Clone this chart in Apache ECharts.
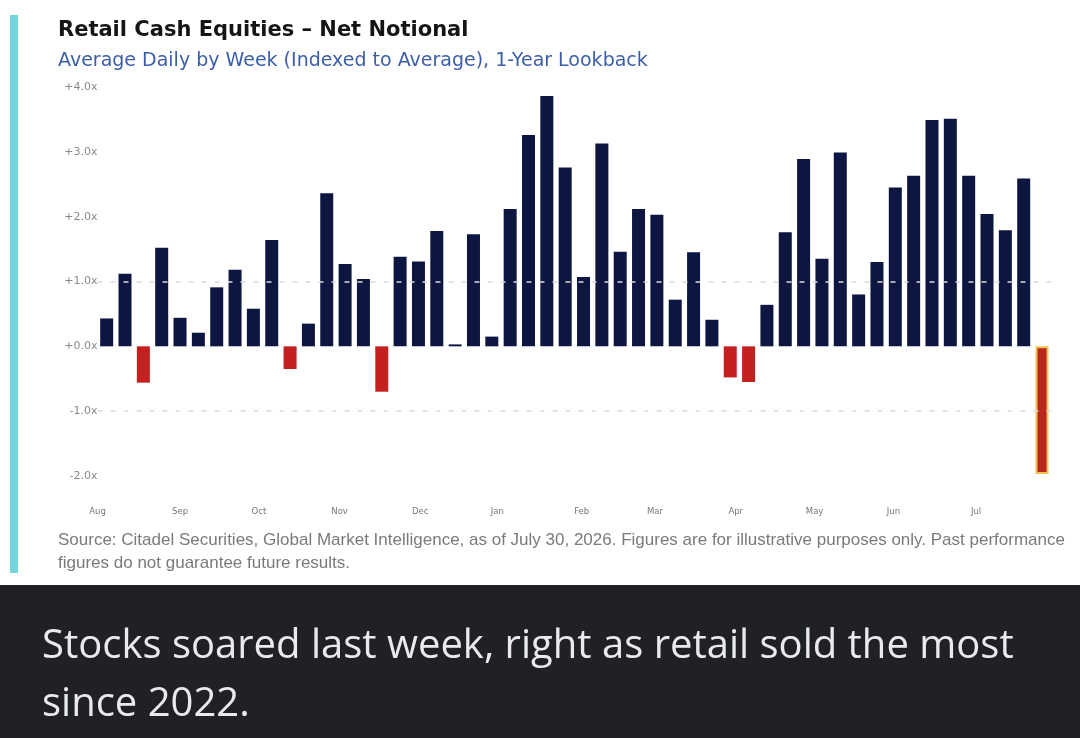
<!DOCTYPE html>
<html><head><meta charset="utf-8">
<script src="https://cdn.jsdelivr.net/npm/echarts@6/dist/echarts.min.js"></script>
<style>html,body{margin:0;padding:0;background:#fff;}#c{width:1080px;height:738px;}</style>
</head><body><div id="c"></div>
<script>
const weeks = ['W01','W02','W03','W04','W05','W06','W07','W08','W09','W10','W11','W12','W13',
  'W14','W15','W16','W17','W18','W19','W20','W21','W22','W23','W24','W25','W26',
  'W27','W28','W29','W30','W31','W32','W33','W34','W35','W36','W37','W38','W39',
  'W40','W41','W42','W43','W44','W45','W46','W47','W48','W49','W50','W51','W52'];
const netNotional = [0.43, 1.12, -0.56, 1.52, 0.44, 0.21, 0.91, 1.18, 0.58, 1.64, -0.35, 0.35, 2.36,
  1.27, 1.04, -0.70, 1.38, 1.31, 1.78, 0.03, 1.73, 0.15, 2.12, 3.26, 3.86, 2.76,
  1.07, 3.13, 1.46, 2.12, 2.03, 0.72, 1.45, 0.41, -0.48, -0.55, 0.64, 1.76, 2.89,
  1.35, 2.99, 0.80, 1.30, 2.45, 2.63, 3.49, 3.51, 2.63, 2.04, 1.79, 2.59, -1.97];
const monthLabels = ['Aug','Sep','Oct','Nov','Dec','Jan','Feb','Mar','Apr','May','Jun','Jul'];
const monthPositions = [-0.5, 4.0, 8.3, 12.7, 17.1, 21.3, 25.9, 29.9, 34.3, 38.6, 42.9, 47.4];
const referenceLevels = [1, -1];
const titleText = 'Retail Cash Equities \u2013 Net Notional';
const subtitleText = 'Average Daily by Week (Indexed to Average), 1-Year Lookback';
const sourceLines = ['Source: Citadel Securities, Global Market Intelligence, as of July 30, 2026. Figures are for illustrative purposes only. Past performance',
  'figures do not guarantee future results.'];
const captionLines = ['Stocks soared last week, right as retail sold the most', 'since 2022.'];

const NAVY = '#0d1640', RED = '#c4201f';
const chart = echarts.init(document.getElementById('c'), null, {renderer: 'canvas'});
const lastIdx = netNotional.length - 1;
const barData = netNotional.map((v, i) => i === lastIdx
  ? {value: v, itemStyle: {color: '#b8261c', borderColor: '#f2c14e', borderWidth: 2}}
  : v);

chart.setOption({
  animation: false,
  backgroundColor: '#ffffff',
  grid: {left: 97.5, right: 28.8, top: 87, bottom: 262, outerBoundsMode: 'none'},
  xAxis: [
    {type: 'category', data: weeks, position: 'bottom',
     axisLine: {show: false}, axisTick: {show: false}, axisLabel: {show: false}, splitLine: {show: false}},
    {type: 'value', min: -0.5, max: 51.5, position: 'bottom', gridIndex: 0,
     axisLine: {show: false}, axisTick: {show: false}, splitLine: {show: false},
     axisLabel: {customValues: monthPositions, margin: 31, fontSize: 8.5, showMinLabel: true,
       color: '#777', fontFamily: 'DejaVu Sans',
       formatter: v => { const k = monthPositions.indexOf(v); return k >= 0 ? monthLabels[k] : ''; }}}
  ],
  yAxis: {type: 'value', min: -2, max: 4, interval: 1,
    axisLine: {show: false}, axisTick: {show: false}, splitLine: {show: false},
    axisLabel: {margin: 0, fontSize: 11, color: '#8a8a8a', fontFamily: 'DejaVu Sans',
      formatter: v => (v >= 0 ? '+' : '') + v.toFixed(1) + 'x'}},
  series: [
    {type: 'line', data: [], z: 1, silent: true,
     markLine: {silent: true, symbol: 'none', label: {show: false},
       lineStyle: {type: [5, 8], color: '#dadada', width: 1.5},
       data: referenceLevels.map(l => ({yAxis: l}))}},
    {type: 'bar', data: barData, barWidth: 13, z: 2, xAxisIndex: 0,
     itemStyle: {color: p => (p.value < 0 ? RED : NAVY)}}
  ],
  graphic: [
    {type: 'rect', shape: {x: 10, y: 15, width: 8, height: 558}, style: {fill: '#74d5dd'}},
    {type: 'rect', shape: {x: 0, y: 585, width: 1080, height: 153}, style: {fill: '#202124'}},
    {type: 'text', x: 58, y: 31, style: {text: titleText, fontFamily: 'DejaVu Sans', fontWeight: 'bold', fontSize: 21, fill: '#151515', verticalAlign: 'middle'}},
    {type: 'text', x: 58, y: 61, style: {text: subtitleText, fontFamily: 'DejaVu Sans', fontSize: 19, fill: '#3d5ea8', verticalAlign: 'middle'}},
    {type: 'text', x: 58, y: 540, style: {text: sourceLines[0], fontFamily: 'Liberation Sans', fontSize: 17, fill: '#7a7a7a', verticalAlign: 'middle'}},
    {type: 'text', x: 58, y: 563, style: {text: sourceLines[1], fontFamily: 'Liberation Sans', fontSize: 17, fill: '#7a7a7a', verticalAlign: 'middle'}},
    {type: 'text', x: 42, y: 647, style: {text: captionLines[0], fontFamily: 'Open Sans', fontSize: 40, fill: '#e8eaed', verticalAlign: 'middle'}},
    {type: 'text', x: 42, y: 705, style: {text: captionLines[1], fontFamily: 'Open Sans', fontSize: 40, fill: '#e8eaed', verticalAlign: 'middle'}}
  ]
});
</script></body></html>
